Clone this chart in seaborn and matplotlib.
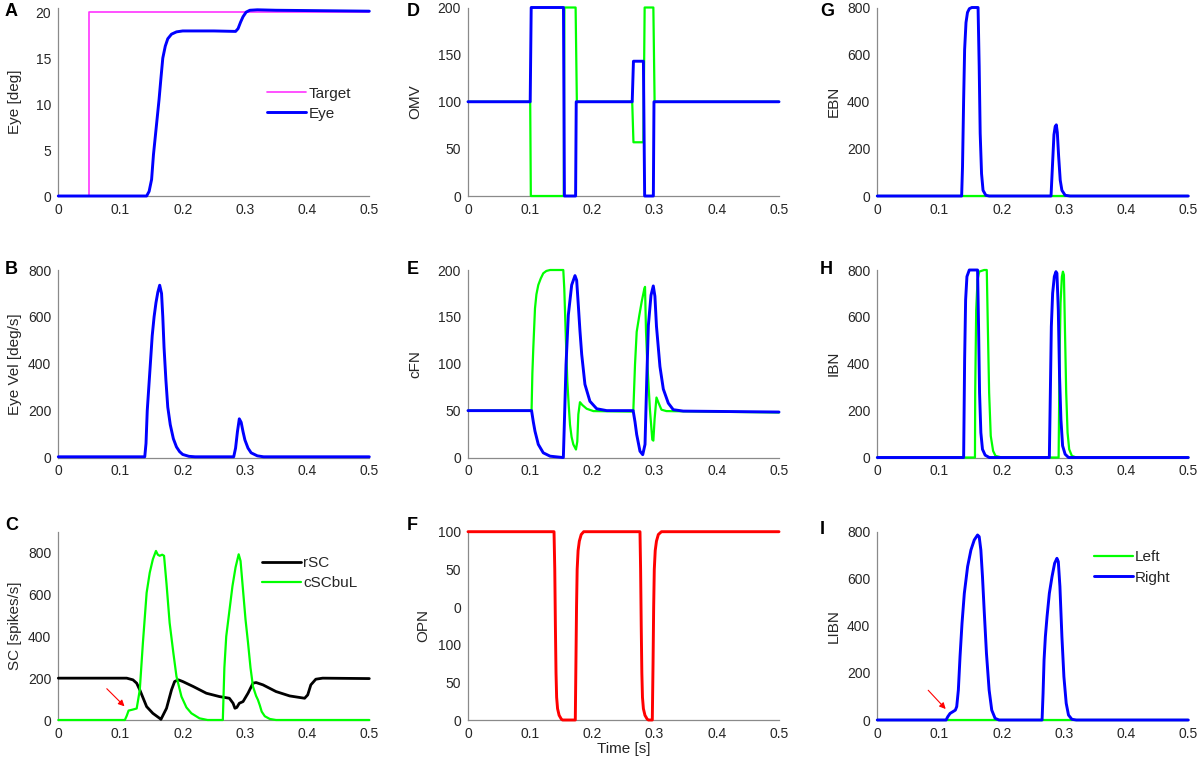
import numpy as np
import pandas as pd
import matplotlib
matplotlib.use("Agg")
import matplotlib.pyplot as plt
import seaborn as sns

# ---- data (time in s) ----
# A: eye position
target_t = [0, 0.05, 0.05, 0.5]
target_y = [0, 0, 20, 20]
eye_t = [0, 0.142, 0.146, 0.15, 0.153, 0.156, 0.159, 0.162, 0.165, 0.168, 0.172, 0.176,
         0.182, 0.19, 0.2, 0.25, 0.285, 0.289, 0.293, 0.297, 0.302, 0.308, 0.32, 0.35, 0.5]
eye_y = [0, 0, 0.5, 1.8, 4.5, 6.5, 8.5, 10.5, 12.8, 15, 16.3, 17.1,
         17.6, 17.85, 17.95, 17.95, 17.9, 18.2, 18.9, 19.5, 20.0, 20.2, 20.25, 20.2, 20.1]

# B: eye velocity
vel_t = [0, 0.139, 0.141, 0.143, 0.146, 0.148, 0.151, 0.154, 0.157, 0.16, 0.163, 0.166,
         0.168, 0.17, 0.173, 0.176, 0.18, 0.185, 0.19, 0.195, 0.2, 0.21, 0.22,
         0.282, 0.285, 0.288, 0.291, 0.294, 0.297, 0.3, 0.305, 0.31, 0.32, 0.33, 0.34, 0.5]
vel_y = [3, 3, 60, 200, 320, 400, 520, 600, 660, 705, 735, 700,
         600, 470, 330, 215, 140, 80, 45, 25, 13, 5, 3,
         3, 40, 110, 165, 150, 110, 75, 40, 20, 7, 3, 3, 3]

# C: superior colliculus
rsc_t = [0, 0.11, 0.12, 0.126, 0.131, 0.142, 0.152, 0.163, 0.165, 0.174, 0.182, 0.187,
         0.193, 0.2, 0.217, 0.238, 0.259, 0.275, 0.281, 0.284, 0.287, 0.291, 0.297,
         0.305, 0.313, 0.318, 0.329, 0.35, 0.372, 0.396, 0.401, 0.406, 0.414, 0.425, 0.5]
rsc_y = [200, 200, 192, 176, 144, 64, 32, 8, 3, 56, 144, 184,
         192, 184, 160, 128, 112, 104, 80, 56, 60, 80, 88,
         128, 176, 179, 168, 136, 115, 104, 120, 168, 195, 200, 198]
csc_t = [0, 0.107, 0.11, 0.113, 0.12, 0.126, 0.128, 0.131, 0.136, 0.142, 0.147, 0.152,
         0.157, 0.16, 0.163, 0.167, 0.17, 0.174, 0.179, 0.185, 0.19, 0.198, 0.206,
         0.214, 0.227, 0.24, 0.2645, 0.267, 0.27, 0.275, 0.28, 0.285, 0.29, 0.293,
         0.297, 0.301, 0.305, 0.309, 0.313, 0.318, 0.321, 0.324, 0.327, 0.332, 0.34, 0.35, 0.5]
csc_y = [0, 0, 20, 45, 50, 55, 90, 144, 368, 608, 704, 768,
         808, 790, 785, 790, 785, 650, 464, 320, 208, 112, 60,
         32, 8, 0, 0, 250, 400, 520, 640, 730, 792, 760,
         620, 480, 370, 250, 160, 115, 96, 70, 40, 18, 5, 0, 0]

# D: OMV
omv_l_t = [0, 0.1, 0.101, 0.154, 0.155, 0.173, 0.175, 0.264, 0.266, 0.282, 0.284, 0.298, 0.3, 0.5]
omv_l_y = [100, 100, 0, 0, 200, 200, 100, 100, 57, 57, 200, 200, 100, 100]
omv_r_t = [0, 0.1, 0.1016, 0.1535, 0.155, 0.173, 0.174, 0.264, 0.266, 0.282, 0.284, 0.298, 0.299, 0.5]
omv_r_y = [100, 100, 200, 200, 0, 0, 100, 100, 143, 143, 0, 0, 100, 100]

# E: cFN
cfn_l_t = [0, 0.1022, 0.1035, 0.105, 0.1077, 0.11, 0.113, 0.117, 0.121, 0.126, 0.132, 0.1532,
           0.1548, 0.157, 0.1597, 0.162, 0.164, 0.1665, 0.1693, 0.1736, 0.1757, 0.1774,
           0.18, 0.1838, 0.1908, 0.2015, 0.264,
           0.2658, 0.2685, 0.2712, 0.2755, 0.2792, 0.2835, 0.2846, 0.2862, 0.288, 0.2925,
           0.2963, 0.298, 0.3, 0.303, 0.3065, 0.311, 0.319, 0.5]
cfn_l_y = [50, 50, 90, 117, 159, 174, 184, 191, 196.5, 199, 200, 200,
           180, 134, 81, 55, 35, 22, 14, 8.5, 17, 46,
           59, 56, 52, 49.5, 49,
           50, 99, 134, 152, 166, 180, 182, 134, 104, 51,
           19, 18, 41, 64, 58, 51, 49.5, 48]
cfn_r_t = [0, 0.1022, 0.105, 0.1077, 0.113, 0.121, 0.132, 0.1522, 0.1533, 0.1555, 0.1576,
           0.1613, 0.1667, 0.172, 0.1747, 0.1774, 0.18, 0.1828, 0.188, 0.196, 0.2069,
           0.223, 0.2655, 0.2685, 0.2712, 0.2765, 0.2809, 0.2846, 0.2873, 0.29, 0.2942,
           0.2979, 0.3005, 0.303, 0.3086, 0.314, 0.322, 0.33, 0.346, 0.5]
cfn_r_y = [50, 50, 38, 28, 14, 5, 1.4, 0, 0, 50, 99,
           152, 184, 194, 189, 162, 135, 110, 78, 60, 52,
           50, 50, 38, 24.5, 6.7, 3, 14, 81, 141, 173,
           183, 172, 140, 97, 73, 58, 51, 49.5, 48.5]

# F: OPN
opn_t = [0, 0.1383, 0.1395, 0.1405, 0.1415, 0.1425, 0.144, 0.1465, 0.15, 0.152, 0.1725,
         0.1735, 0.1745, 0.1755, 0.177, 0.179, 0.182, 0.186, 0.2765, 0.2775, 0.2785,
         0.2795, 0.2805, 0.282, 0.2845, 0.288, 0.29, 0.2963, 0.2975, 0.2985, 0.2995,
         0.301, 0.303, 0.306, 0.311, 0.5]
opn_y = [100, 100, 80, 50, 25, 12, 6, 2.5, 0.5, 0, 0,
         30, 60, 80, 90, 95, 98.5, 100, 100, 80, 50,
         25, 12, 6, 2.5, 0.5, 0, 0, 30, 60, 80,
         90, 95, 98.5, 100, 100]
opn_ticklabels = ["0", "50", "100", "0", "50", "100"]

# G: EBN
ebn_l_t = [0, 0.5]
ebn_l_y = [0, 0]
ebn_r_t = [0, 0.1356, 0.137, 0.1388, 0.1404, 0.1426, 0.145, 0.148, 0.152, 0.162, 0.1638,
           0.1654, 0.1676, 0.17, 0.1745, 0.18, 0.2793, 0.282, 0.284, 0.286, 0.2878,
           0.2894, 0.2915, 0.2941, 0.2968, 0.302, 0.31, 0.5]
ebn_r_y = [0, 0, 124, 408, 622, 736, 779, 795, 800, 800, 551,
           266, 95, 24, 3, 0, 0, 150, 260, 295, 302,
           270, 170, 67, 24, 3, 0, 0]

# H: IBN
ibn_l_t = [0, 0.157, 0.1574, 0.159, 0.1612, 0.1638, 0.1718, 0.176, 0.1777, 0.1798, 0.1824,
           0.1862, 0.19, 0.2, 0.2915, 0.293, 0.2946, 0.2968, 0.2984, 0.3, 0.3016,
           0.3037, 0.3059, 0.3085, 0.3128, 0.32, 0.5]
ibn_l_y = [0, 0, 276, 630, 758, 793, 800, 800, 559, 276, 92,
           28, 7, 0, 0, 418, 659, 772, 793, 779, 559,
           276, 106, 35, 7, 0, 0]
ibn_r_t = [0, 0.1388, 0.1404, 0.142, 0.1441, 0.1479, 0.1612, 0.1628, 0.1644, 0.1665, 0.1691,
           0.1734, 0.18, 0.2766, 0.2782, 0.2798, 0.2819, 0.2846, 0.2872, 0.2888, 0.291,
           0.293, 0.2952, 0.2979, 0.302, 0.3074, 0.5]
ibn_r_y = [0, 0, 418, 673, 772, 800, 800, 559, 276, 106, 35,
           10, 0, 0, 276, 559, 701, 772, 793, 786, 630,
           347, 163, 50, 14, 0, 0]

# I: LIBN
libn_l_t = [0, 0.5]
libn_l_y = [0, 0]
libn_r_t = [0, 0.1106, 0.1133, 0.117, 0.1213, 0.1255, 0.1277, 0.1303, 0.133, 0.1362, 0.1399,
            0.1452, 0.1505, 0.1559, 0.1612, 0.1638, 0.1665, 0.1691, 0.1718, 0.1755, 0.1798,
            0.184, 0.1894, 0.1957, 0.2649, 0.2665, 0.2681, 0.2702, 0.2729, 0.2766, 0.2809,
            0.2851, 0.2888, 0.291, 0.2936, 0.2968, 0.3, 0.3037, 0.3074, 0.3128, 0.32, 0.5]
libn_r_y = [0, 0, 14, 28, 35, 42, 57, 127, 269, 411, 538,
            652, 722, 765, 786, 779, 722, 609, 467, 283, 127,
            42, 7, 0, 0, 113, 255, 354, 439, 538, 609,
            666, 687, 673, 567, 354, 184, 71, 21, 3, 0, 0]

time_ticks = [0, 0.1, 0.2, 0.3, 0.4, 0.5]
time_ticklabels = ["0", "0.1", "0.2", "0.3", "0.4", "0.5"]

BLUE = "#0000ff"
GREEN = "#00ff00"
LW_BLUE = 2.1
LW_GREEN = 1.6

sns.set_theme(style="white")
plt.rcParams['font.family'] = ['Liberation Sans', 'DejaVu Sans']
plt.rcParams['axes.edgecolor'] = '#8a8a8a'
plt.rcParams['xtick.color'] = '#8a8a8a'
plt.rcParams['ytick.color'] = '#8a8a8a'
plt.rcParams['xtick.labelcolor'] = '#262626'
plt.rcParams['ytick.labelcolor'] = '#262626'


def draw(ax, t, y, color, lw, label=None):
    sns.lineplot(x=t, y=y, ax=ax, color=color, linewidth=lw, estimator=None,
                 sort=False, label=label, clip_on=False, zorder=3)


fig = plt.figure(figsize=(11.99, 7.62), dpi=100)
W, H = 1199.0, 762.0
cols = [58.3, 468.0, 877.3]
rows = [(7.5, 196.0), (270.0, 457.5), (531.7, 720.0)]
axw = 311.0

axes = {}
letters = [["A", "D", "G"], ["B", "E", "H"], ["C", "F", "I"]]
for r, (top, bot) in enumerate(rows):
    for c, left in enumerate(cols):
        ax = fig.add_axes([left / W, 1 - bot / H, axw / W, (bot - top) / H])
        axes[letters[r][c]] = ax

# A
ax = axes["A"]
draw(ax, target_t, target_y, "#ff33ff", 1.2, "Target")
draw(ax, eye_t, eye_y, BLUE, LW_BLUE, "Eye")
ax.set_ylim(0, 20.5)
ax.set_yticks([0, 5, 10, 15, 20])
ax.set_ylabel("Eye [deg]")

# B
ax = axes["B"]
draw(ax, vel_t, vel_y, BLUE, LW_BLUE)
ax.set_ylim(0, 800)
ax.set_yticks([0, 200, 400, 600, 800])
ax.set_ylabel("Eye Vel [deg/s]")

# C
ax = axes["C"]
draw(ax, rsc_t, rsc_y, "black", 2.0, "rSC")
draw(ax, csc_t, csc_y, GREEN, LW_GREEN, "cSCbuL")
ax.set_ylim(0, 900)
ax.set_yticks([0, 200, 400, 600, 800])
ax.set_ylabel("SC [spikes/s]")
ax.annotate("", xy=(0.1096, 56), xytext=(0.0748, 159),
            arrowprops=dict(arrowstyle="-|>", color="red", lw=0.8,
                            mutation_scale=9))

# D
ax = axes["D"]
draw(ax, omv_l_t, omv_l_y, GREEN, LW_GREEN)
draw(ax, omv_r_t, omv_r_y, BLUE, LW_BLUE)
ax.set_ylim(0, 200)
ax.set_yticks([0, 50, 100, 150, 200])
ax.set_ylabel("OMV")

# E
ax = axes["E"]
draw(ax, cfn_l_t, cfn_l_y, GREEN, LW_GREEN)
draw(ax, cfn_r_t, cfn_r_y, BLUE, LW_BLUE)
ax.set_ylim(0, 200)
ax.set_yticks([0, 50, 100, 150, 200])
ax.set_ylabel("cFN")

# F
ax = axes["F"]
draw(ax, opn_t, opn_y, "#ff0000", 2.1)
ax.set_ylim(0, 100)
ax.set_yticks([0, 20, 40, 60, 80, 100])
ax.set_yticklabels(opn_ticklabels)
ax.set_ylabel("OPN")
ax.set_xlabel("Time [s]", fontsize=11, labelpad=1)

# G
ax = axes["G"]
draw(ax, ebn_l_t, ebn_l_y, GREEN, LW_GREEN)
draw(ax, ebn_r_t, ebn_r_y, BLUE, LW_BLUE)
ax.set_ylim(0, 800)
ax.set_yticks([0, 200, 400, 600, 800])
ax.set_ylabel("EBN")

# H
ax = axes["H"]
draw(ax, ibn_l_t, ibn_l_y, GREEN, LW_GREEN)
draw(ax, ibn_r_t, ibn_r_y, BLUE, LW_BLUE)
ax.set_ylim(0, 800)
ax.set_yticks([0, 200, 400, 600, 800])
ax.set_ylabel("IBN")

# I
ax = axes["I"]
draw(ax, libn_l_t, libn_l_y, GREEN, LW_GREEN, "Left")
draw(ax, libn_r_t, libn_r_y, BLUE, LW_BLUE, "Right")
ax.set_ylim(0, 800)
ax.set_yticks([0, 200, 400, 600, 800])
ax.set_ylabel("LIBN")
ax.annotate("", xy=(0.113, 38), xytext=(0.0788, 135),
            arrowprops=dict(arrowstyle="-|>", color="red", lw=0.8,
                            mutation_scale=9))

# common styling
label_x = {"A": -0.117, "B": -0.117, "C": -0.117, "D": -0.148, "E": -0.148,
           "F": -0.122, "G": -0.117, "H": -0.117, "I": -0.117}
for key, ax in axes.items():
    ax.set_xlim(0, 0.5)
    ax.set_xticks(time_ticks)
    ax.set_xticklabels(time_ticklabels)
    ax.tick_params(direction="in", length=4, width=0.8, labelsize=10, pad=5)
    for s in ["top", "right"]:
        ax.spines[s].set_visible(False)
    for s in ["left", "bottom"]:
        ax.spines[s].set_linewidth(0.9)
    ax.yaxis.label.set_fontsize(11)
    ax.yaxis.set_label_coords(label_x[key], 0.5)
    if ax.get_legend() is not None:
        ax.get_legend().remove()

leg_kw = dict(frameon=False, fontsize=11, handlelength=2.55, handletextpad=0.15,
              labelspacing=0.4, loc="center left")
axes["A"].legend(bbox_to_anchor=(0.627, 0.49), **leg_kw)
axes["C"].legend(bbox_to_anchor=(0.611, 0.78), **leg_kw)
axes["I"].legend(bbox_to_anchor=(0.652, 0.81), **leg_kw)

letter_pos = {"A": (5, 12), "D": (407, 12), "G": (820, 12),
              "B": (5, 270), "E": (407, 269), "H": (820, 269),
              "C": (5, 525), "F": (407, 525), "I": (820, 530)}
for k, (x, y) in letter_pos.items():
    fig.text(x / W, 1 - y / H, k, fontsize=13, fontweight="bold",
             ha="left", va="center", color="black")

plt.savefig("out.png", dpi=100)
